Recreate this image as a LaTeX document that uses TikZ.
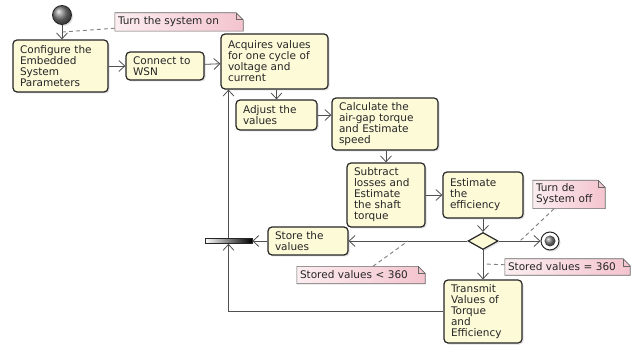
\documentclass[tikz,border=0pt]{standalone}
\usepackage{fontspec}
\setmainfont{DejaVu Sans}
\usetikzlibrary{arrows.meta,shapes.geometric,shadows,backgrounds,calc}
\definecolor{cream}{RGB}{253,250,216}
\definecolor{pinkn}{RGB}{244,196,206}
\definecolor{edge}{RGB}{38,38,38}
\definecolor{linec}{RGB}{80,80,80}
\newcommand{\mynotefold}[1]{%
  \begin{pgfonlayer}{background}
  \path[left color=white!70!pinkn, right color=pinkn] (#1.south west) -- (#1.north west) -- ([xshift=-7pt]#1.north east) -- ([yshift=-7pt]#1.north east) -- (#1.south east) -- cycle;
  \end{pgfonlayer}
  \draw[draw=gray!80!black, line width=0.6pt] (#1.south west) -- (#1.north west) -- ([xshift=-7pt]#1.north east) -- ([yshift=-7pt]#1.north east) -- (#1.south east) -- cycle;
  \draw[draw=gray!80!black, line width=0.6pt] ([xshift=-7pt]#1.north east) -- ([xshift=-7pt,yshift=-7pt]#1.north east) -- ([yshift=-7pt]#1.north east);
}
\begin{document}
\begin{tikzpicture}[x=1pt,y=-1pt,
  act/.style={draw=edge, line width=1.2pt, rounded corners=4pt, fill=cream, align=left,
    inner xsep=7pt, inner ysep=2pt, font=\fontsize{10.5}{11}\selectfont, text=black!85,
    drop shadow={opacity=0.25, shadow xshift=1.5pt, shadow yshift=-1.5pt}},
  notebox/.style={inner xsep=3pt, inner ysep=1pt, align=left, font=\fontsize{10.5}{11}\selectfont, text=black!85},
  flow/.style={draw=linec, line width=0.8pt, -{Straight Barb[length=6pt,width=11pt]}},
  notelink/.style={draw=gray, line width=0.9pt, dash pattern=on 4pt off 3pt},
]
\begin{pgfonlayer}{background}
\fill[white] (0,0) rectangle (642,347);
\end{pgfonlayer}
\useasboundingbox (0,0) rectangle (642,347);

% start
\node[circle, minimum size=19pt, inner sep=0, draw=edge, line width=0.8pt, ball color=gray,
  drop shadow={opacity=0.25, shadow xshift=1.5pt, shadow yshift=-1.5pt}] (start) at (62,15) {};

% activities
\node[act, text width=81pt, minimum height=52pt] (conf) at (60.5,66) {Configure the\\Embedded\\System\\Parameters};
\node[act, text width=64pt, minimum height=28pt] (conn) at (165,66) {Connect to\\WSN};
\node[act, text width=93pt, minimum height=55pt] (acq) at (274.5,61.5) {Acquires values\\for one cycle of\\voltage and\\current};
\node[act, text width=67pt, minimum height=30pt] (adj) at (276.5,115) {Adjust the\\values};
\node[act, text width=92pt, minimum height=52pt] (calc) at (385,124) {Calculate the\\air-gap torque\\and Estimate\\speed};
\node[act, text width=64pt, minimum height=64pt] (sub) at (386,195) {Subtract\\losses and\\Estimate\\the shaft\\torque};
\node[act, text width=66pt, minimum height=46pt] (eff) at (483,195) {Estimate\\the\\efficiency};
\node[act, text width=66pt, minimum height=28pt] (store) at (308,241) {Store the\\values};
\node[act, text width=64pt, minimum height=63pt] (trans) at (483,311.5) {Transmit\\Values of\\Torque\\and\\Efficiency};

% decision
\node[diamond, minimum width=30pt, minimum height=17pt, inner sep=0, draw=edge, line width=1.2pt, fill=cream,
  drop shadow={opacity=0.25, shadow xshift=1.5pt, shadow yshift=-1.5pt}] (dia) at (483,241) {};

% end
\node[circle, minimum size=18pt, inner sep=0, draw=edge, line width=1pt, fill=white,
  drop shadow={opacity=0.25, shadow xshift=1.5pt, shadow yshift=-1.5pt}] (endc) at (550,241) {};
\node[circle, minimum size=11pt, inner sep=0, ball color=gray] (endin) at (endc) {};

% join bar
\node[rectangle, minimum width=47pt, minimum height=5pt, inner sep=0, draw=edge, line width=0.6pt,
  left color=white, middle color=white, right color=black] (bar) at (228.5,241) {};

% notes
\node[notebox, text width=122pt, minimum height=18pt] (note1) at (179,22) {Turn the system on};
\mynotefold{note1}
\node[notebox, text width=66pt, minimum height=28pt] (note2) at (569,194.5) {Turn de\\System off};
\mynotefold{note2}
\node[notebox, text width=122pt, minimum height=17pt] (note3) at (361,275) {Stored values < 360};
\mynotefold{note3}
\node[notebox, text width=119pt, minimum height=16pt] (note4) at (567.5,267) {Stored values = 360};
\mynotefold{note4}

% flows
\draw[flow] (start) -- (start |- conf.north);
\draw[flow] (conf) -- (conn);
\draw[flow] (conn) -- (acq);
\draw[flow] (adj |- acq.south) -- (adj.north);
\draw[flow] (adj.east) -- (adj.east -| calc.west);
\draw[flow] (sub |- calc.south) -- (sub.north);
\draw[flow] (sub) -- (eff);
\draw[flow] (eff) -- (dia);
\draw[flow] (dia) -- (store);
\draw[flow] (dia) -- (endc);
\draw[flow] (dia) -- (trans);
\draw[flow] (store) -- (bar);
\draw[flow] (trans.west) -| (bar.south);
\draw[flow] (bar.north) -- (bar.north |- acq.south);

% note links
\coordinate (n1t) at (63,32);
\coordinate (n2t) at (520,241);
\coordinate (n3t) at (408,241);
\coordinate (n4t) at (484,264);
\draw[notelink] ([yshift=3pt]note1.south west) -- (n1t);
\draw[notelink] (note2) -- (n2t);
\draw[notelink] (note3) -- (n3t);
\draw[notelink] (note4) -- (n4t);
\end{tikzpicture}
\end{document}
